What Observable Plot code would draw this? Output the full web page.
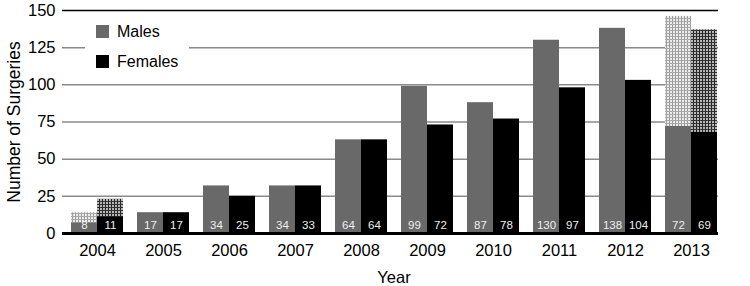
<!DOCTYPE html>
<html><head><meta charset="utf-8">
<script src="https://cdn.jsdelivr.net/npm/d3@7"></script>
<script src="https://cdn.jsdelivr.net/npm/@observablehq/plot@0.6"></script>
<style>
body{margin:0;background:#fff;}
#wrap{position:relative;width:750px;height:286px;font-family:"Liberation Sans",Arial,sans-serif;}
#legend{position:absolute;left:85px;top:19px;width:104px;height:57px;background:#fff;}
.sw{position:absolute;left:11px;width:13px;height:13px;}
.lt{position:absolute;left:32px;font-size:16px;line-height:16px;color:#000;}
</style></head>
<body><div id="wrap"></div>
<script>
const years = [2004, 2005, 2006, 2007, 2008, 2009, 2010, 2011, 2012, 2013];
const maleBar = [7, 14, 32, 32, 63, 99, 88, 130, 138, 72];
const femaleBar = [11, 14, 25, 32, 63, 73, 77, 98, 103, 68];
const maleLabel = [8, 17, 34, 34, 64, 99, 87, 130, 138, 72];
const femaleLabel = [11, 17, 25, 33, 64, 72, 78, 97, 104, 69];
const projYears = [2004, 2013];
const maleProj = [14, 146];
const femaleProj = [23, 137];
const yTicks = [0, 25, 50, 75, 100, 125, 150];
const series = ["Males", "Females"];
const colors = ["#696969", "#000000"];

const males = years.map((y, i) => ({year: String(y), v: maleBar[i], label: maleLabel[i]}));
const females = years.map((y, i) => ({year: String(y), v: femaleBar[i], label: femaleLabel[i]}));
const mProj = projYears.map((y, i) => ({year: String(y), v: maleProj[i]}));
const fProj = projYears.map((y, i) => ({year: String(y), v: femaleProj[i]}));
const gridTicks = yTicks.filter(t => t > 0 && t < 150);

const half = 26;
const chart = Plot.plot({
  width: 750, height: 286,
  marginLeft: 62, marginRight: 25, marginTop: 10, marginBottom: 53,
  style: {fontSize: "16.5px", fontFamily: "Liberation Sans, Arial, sans-serif", color: "#000", background: "#fff"},
  x: {domain: years.map(String), paddingInner: 0.213, paddingOuter: 0.12},
  y: {domain: [0, 150]},
  marks: [
    Plot.ruleY(gridTicks, {stroke: "#8a8a8a", strokeWidth: 1.5, insetRight: 7}),
    Plot.ruleY([150], {stroke: "#000", strokeWidth: 1.5, insetRight: 7}),
    Plot.barY(mProj, {x: "year", y: "v", fill: "url(#patM)", insetRight: half}),
    Plot.barY(fProj, {x: "year", y: "v", fill: "url(#patF)", insetLeft: half}),
    Plot.barY(males, {x: "year", y: "v", fill: colors[0], insetRight: half}),
    Plot.barY(females, {x: "year", y: "v", fill: colors[1], insetLeft: half}),
    Plot.text(males, {x: "year", y: 0, text: "label", dx: -13, dy: -8, fill: "#eee", fontSize: 11.5}),
    Plot.text(females, {x: "year", y: 0, text: "label", dx: 13, dy: -8, fill: "#eee", fontSize: 11.5}),
    Plot.ruleY([0], {stroke: "#000", strokeWidth: 3, insetRight: 7}),
    Plot.axisY({ticks: yTicks, tickSize: 0, tickPadding: 7, label: "Number of Surgeries", labelAnchor: "center", labelArrow: "none", labelOffset: 55, fontSize: 16.5}),
    Plot.axisX({tickSize: 0, tickPadding: 11, label: "Year", labelAnchor: "center", labelArrow: "none", labelOffset: 49, fontSize: 16.5})
  ]
});

// patterns for projected portions
const ns = "http://www.w3.org/2000/svg";
const defs = document.createElementNS(ns, "defs");
defs.innerHTML = `
<pattern id="patM" width="3" height="3" patternUnits="userSpaceOnUse">
  <rect width="3" height="3" fill="#ececec"/>
  <rect width="1" height="3" fill="#9a9a9a"/>
  <rect width="3" height="1" fill="#a8a8a8"/>
</pattern>
<pattern id="patF" width="3" height="3" patternUnits="userSpaceOnUse">
  <rect width="3" height="3" fill="#b8b8b8"/>
  <rect width="1" height="3" fill="#222"/>
  <rect width="3" height="1" fill="#333"/>
</pattern>`;
chart.insertBefore(defs, chart.firstChild);
const yl = chart.querySelector('[aria-label="y-axis label"]');
if (yl) yl.setAttribute("font-size", "17.5");

const wrap = document.getElementById("wrap");
wrap.appendChild(chart);
const lg = document.createElement("div");
lg.id = "legend";
lg.innerHTML = series.map((s, i) =>
  `<div class="sw" style="top:${6 + i * 30}px;background:${colors[i]}"></div><div class="lt" style="top:${5 + i * 30}px">${s}</div>`).join("");
wrap.appendChild(lg);
</script>
</body></html>
